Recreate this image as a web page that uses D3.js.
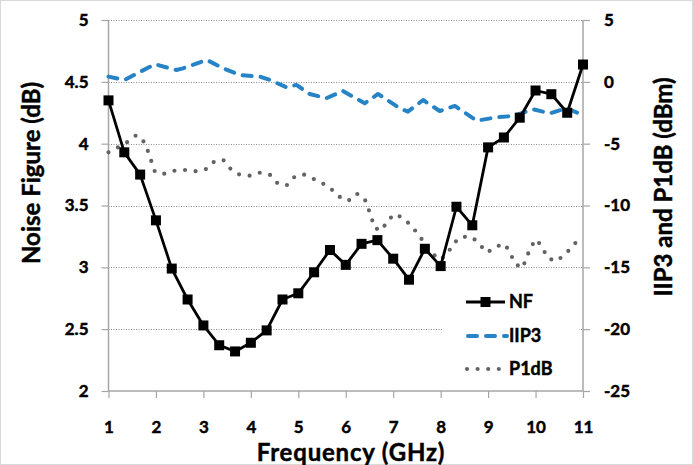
<!DOCTYPE html>
<html>
<head>
<meta charset="utf-8">
<script src="https://cdn.jsdelivr.net/npm/d3@7"></script>
<style>
  body { margin: 0; background: #fff; }
  text { font-family: Lato, "Open Sans", sans-serif; font-weight: 700; fill: #000; stroke: #000; stroke-width: 0.45px; }
</style>
</head>
<body>
<div id="chart"></div>
<script>
// NF is measured every 1/3 GHz
var nfFreq = [1, 1.333, 1.667, 2, 2.333, 2.667, 3, 3.333, 3.667, 4, 4.333, 4.667, 5, 5.333, 5.667, 6,
              6.333, 6.667, 7, 7.333, 7.667, 8, 8.333, 8.667, 9, 9.333, 9.667, 10, 10.333, 10.667, 11];
var nfValues = [4.35, 3.93, 3.75, 3.38, 2.99, 2.74, 2.53, 2.37, 2.32, 2.39, 2.49, 2.74, 2.79, 2.96, 3.14, 3.02,
                3.19, 3.22, 3.07, 2.90, 3.15, 3.01, 3.49, 3.34, 3.97, 4.05, 4.21, 4.43, 4.40, 4.25, 4.64];

// IIP3 (dBm)
var iip3Freq = [1, 1.34, 1.67, 1.98, 2.43, 2.57, 3.07, 3.42, 3.77, 4.19, 4.40, 4.75, 4.96, 5.24, 5.59, 5.94,
                6.40, 6.68, 7.14, 7.31, 7.63, 7.98, 8.30, 8.76, 9.18, 9.53, 9.95, 10.30, 10.65, 11];
var iip3Values = [0.42, 0.15, 0.82, 1.42, 0.96, 1.09, 1.77, 1.09, 0.55, 0.42, 0.15, -0.44, -0.25, -0.98, -1.33, -0.74,
                  -1.74, -0.98, -2.14, -2.41, -1.47, -2.36, -1.95, -3.14, -2.87, -2.76, -2.22, -2.55, -2.14, -2.68];

// P1dB (dBm)
var p1dbFreq = [1, 1.20, 1.41, 1.59, 1.73, 1.83, 1.91, 1.98, 2.15, 2.40, 2.61, 2.85, 3.07, 3.24, 3.42, 3.56,
                3.73, 3.98, 4.19, 4.40, 4.56, 4.75, 4.91, 5.10, 5.31, 5.51, 5.70, 5.86, 6.05, 6.23, 6.39, 6.47,
                6.54, 6.61, 6.77, 6.87, 7.05, 7.24, 7.41, 7.55, 7.69, 7.83, 8.0, 8.16, 8.28, 8.44, 8.67, 8.83,
                8.98, 9.16, 9.35, 9.47, 9.56, 9.72, 9.81, 9.89, 10.02, 10.15, 10.26, 10.44, 10.63, 10.79, 10.93];
var p1dbValues = [-5.70, -5.29, -4.84, -4.30, -4.76, -5.59, -6.50, -7.29, -7.45, -7.18, -7.13, -7.23, -7.04, -6.40, -6.32, -6.99,
                  -7.47, -7.59, -7.35, -7.51, -8.20, -8.39, -7.72, -7.47, -7.83, -8.20, -8.69, -9.28, -9.63, -9.04, -9.39, -10.17,
                  -10.98, -11.84, -12.00, -11.22, -10.68, -11.11, -11.76, -12.46, -13.21, -13.92, -14.40, -13.78, -13.03, -12.52, -12.57, -13.19,
                  -13.81, -13.33, -13.11, -13.86, -14.67, -15.07, -14.26, -13.38, -12.73, -13.46, -14.26, -14.51, -13.92, -13.27, -12.60];

var xTicks = [1, 2, 3, 4, 5, 6, 7, 8, 9, 10, 11];
var leftTicks = [2, 2.5, 3, 3.5, 4, 4.5, 5];
var rightTicks = [-25, -20, -15, -10, -5, 0, 5];
var legendNames = ["NF", "IIP3", "P1dB"];

var W = 693, H = 465;
var plot = { left: 108.5, right: 583, top: 20, bottom: 391 };

var svg = d3.select("#chart").append("svg")
    .attr("width", W)
    .attr("height", H);

// chart border
svg.append("rect")
    .attr("x", 0.5).attr("y", 0.5)
    .attr("width", W - 1).attr("height", H - 1)
    .attr("fill", "#fff")
    .attr("stroke", "#d9d9d9");

var x = d3.scaleLinear().domain([1, 11]).range([plot.left, plot.right]);
var yL = d3.scaleLinear().domain([2, 5]).range([plot.bottom, plot.top]);
var yR = d3.scaleLinear().domain([-25, 5]).range([plot.bottom, plot.top]);

// gridlines (dotted)
svg.append("g")
    .selectAll("line")
    .data(leftTicks.slice(1))
    .enter()
    .append("line")
    .attr("x1", plot.left).attr("x2", plot.right)
    .attr("y1", function(d) { return Math.round(yL(d)) + 0.5; })
    .attr("y2", function(d) { return Math.round(yL(d)) + 0.5; })
    .attr("stroke", "#8c8c8c")
    .attr("stroke-dasharray", "1,1.5");

// axes
var xAxis = svg.append("g")
    .attr("transform", "translate(0," + plot.bottom + ")")
    .call(d3.axisBottom(x).tickValues(xTicks).tickSize(7).tickPadding(23).tickFormat(d3.format("d")));
var leftAxis = svg.append("g")
    .attr("transform", "translate(" + plot.left + ",0)")
    .call(d3.axisLeft(yL).tickValues(leftTicks).tickSize(7).tickPadding(13).tickFormat(function(d) { return String(d); }));
var rightAxis = svg.append("g")
    .attr("transform", "translate(" + plot.right + ",0)")
    .call(d3.axisRight(yR).tickValues(rightTicks).tickSize(7).tickPadding(14).tickFormat(function(d) { return String(d); }));

[xAxis, leftAxis, rightAxis].forEach(function(ax) {
    ax.select(".domain").attr("stroke", "#a6a6a6").attr("stroke-width", 1.5);
    ax.selectAll(".tick line").attr("stroke", "#a6a6a6").attr("stroke-width", 1.2);
    ax.selectAll("text")
        .attr("font-family", "Lato, 'Open Sans', sans-serif")
        .attr("font-weight", 700)
        .attr("font-size", 17)
        .attr("fill", "#000");
});
// no outer tick stubs on the domain paths
xAxis.select(".domain").attr("d", "M" + plot.left + ",0H" + plot.right);
leftAxis.select(".domain").attr("d", "M0," + plot.top + "V" + plot.bottom);
rightAxis.select(".domain").attr("d", "M0," + plot.top + "V" + plot.bottom);

// axis titles
svg.append("text")
    .attr("x", 351)
    .attr("y", 461)
    .attr("text-anchor", "middle")
    .style("font-size", "24px")
    .style("letter-spacing", "0.8px")
    .text("Frequency (GHz)");
svg.append("text")
    .attr("transform", "translate(40,173) rotate(-90)")
    .attr("text-anchor", "middle")
    .style("font-size", "24px")
    .text("Noise Figure (dB)");
svg.append("text")
    .attr("transform", "translate(672,187) rotate(-90)")
    .attr("text-anchor", "middle")
    .style("font-size", "24px")
    .text("IIP3 and P1dB (dBm)");

// series
var p1dbLine = d3.line()
    .x(function(d, i) { return x(p1dbFreq[i]); })
    .y(function(d) { return yR(d); });
svg.append("path")
    .datum(p1dbValues)
    .attr("d", p1dbLine)
    .attr("fill", "none")
    .attr("stroke", "#636363")
    .attr("stroke-width", 4.2)
    .attr("stroke-linecap", "round")
    .attr("stroke-dasharray", "0,10.6");

var iip3Line = d3.line()
    .x(function(d, i) { return x(iip3Freq[i]); })
    .y(function(d) { return yR(d); });
svg.append("path")
    .datum(iip3Values)
    .attr("d", iip3Line)
    .attr("fill", "none")
    .attr("stroke", "#2683c6")
    .attr("stroke-width", 4)
    .attr("stroke-linecap", "round")
    .attr("stroke-linejoin", "round")
    .attr("stroke-dasharray", "9,9");

var nfLine = d3.line()
    .x(function(d, i) { return x(nfFreq[i]); })
    .y(function(d) { return yL(d); });
svg.append("path")
    .datum(nfValues)
    .attr("d", nfLine)
    .attr("fill", "none")
    .attr("stroke", "#000")
    .attr("stroke-width", 2.8)
    .attr("stroke-linejoin", "round");

var ms = 10;
svg.append("g")
    .selectAll("rect")
    .data(nfValues)
    .enter()
    .append("rect")
    .attr("x", function(d, i) { return x(nfFreq[i]) - ms / 2; })
    .attr("y", function(d) { return yL(d) - ms / 2; })
    .attr("width", ms)
    .attr("height", ms)
    .attr("fill", "#000");

// legend
var legend = svg.append("g");
legend.append("rect")
    .attr("x", 443).attr("y", 284)
    .attr("width", 136).attr("height", 100)
    .attr("fill", "#fff");

var rowY = [302, 336, 369];
var lx0 = 466, lx1 = 505;
legendNames.forEach(function(name, i) {
    var g = legend.append("g");
    var ln = g.append("line")
        .attr("x1", lx0).attr("x2", lx1)
        .attr("y1", rowY[i]).attr("y2", rowY[i]);
    if (i == 0) {
        ln.attr("stroke", "#000").attr("stroke-width", 2.8);
        g.append("rect")
            .attr("x", (lx0 + lx1) / 2 - ms / 2).attr("y", rowY[i] - ms / 2)
            .attr("width", ms).attr("height", ms)
            .attr("fill", "#000");
    } else if (i == 1) {
        ln.attr("x1", lx0 + 2).attr("x2", lx1 + 2)
            .attr("stroke", "#2683c6").attr("stroke-width", 4)
            .attr("stroke-linecap", "round").attr("stroke-dasharray", "9,9");
    } else {
        ln.attr("x1", lx0 + 1).attr("x2", lx1 + 2)
            .attr("stroke", "#636363").attr("stroke-width", 4.2)
            .attr("stroke-linecap", "round").attr("stroke-dasharray", "0,10.6");
    }
    g.append("text")
        .attr("x", 509)
        .attr("y", rowY[i])
        .attr("dy", "0.36em")
        .style("font-size", "18px")
        .text(name);
});
</script>
</body>
</html>
